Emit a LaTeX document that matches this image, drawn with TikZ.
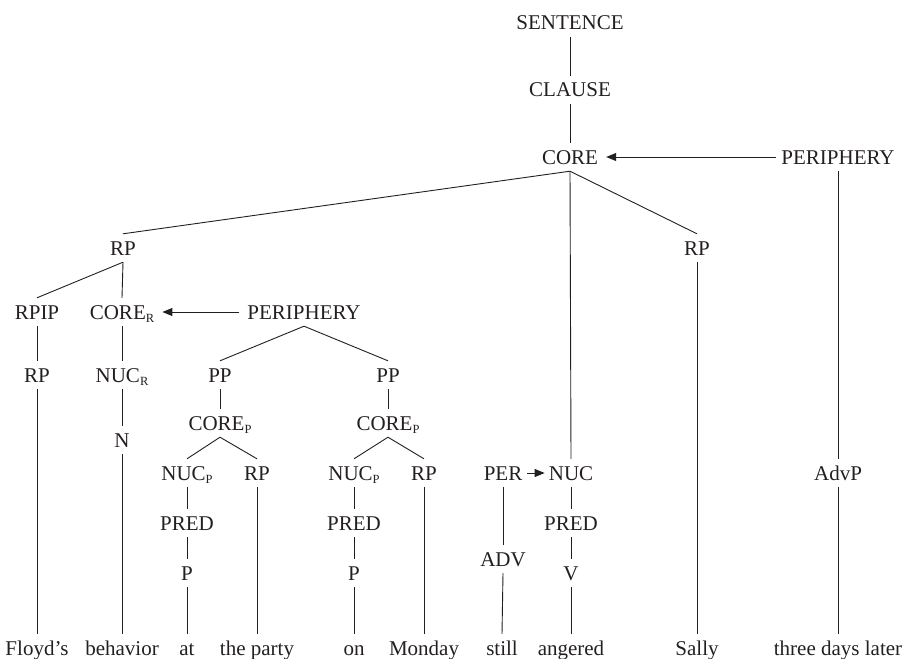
\documentclass[tikz,border=0pt]{standalone}
\usepackage{fontspec}
\setmainfont{Liberation Serif}
\usetikzlibrary{arrows.meta}
\definecolor{ink}{RGB}{35,31,32}
\newcommand{\lsub}[1]{\raisebox{-0.35ex}{\fontsize{12.5}{13}\selectfont #1}}
\begin{document}
\begin{tikzpicture}[x=1pt,y=-1pt,
  lbl/.style={inner xsep=0pt, inner ysep=7pt, text height=14pt, text depth=0pt,
    text=ink, font=\fontsize{21}{24}\selectfont},
  edge/.style={line width=0.9pt, draw=ink},
  arr/.style={edge, -{Triangle[length=10pt,width=8pt]}}]
\useasboundingbox (0,0) rectangle (904,658);
% nodes
\node[lbl] (sent)   at (570,23)  {SENTENCE};
\node[lbl] (clause) at (570,90)  {CLAUSE};
\node[lbl] (core)   at (570,157) {CORE};
\node[lbl] (per1)   at (838,157) {PERIPHERY};
\node[lbl] (rp1)    at (123,248) {RP};
\node[lbl] (rp2)    at (697,248) {RP};
\node[lbl] (rpip)   at (37,312)  {RPIP};
\node[lbl] (coreR)  at (122,312) {CORE\lsub{R}};
\node[lbl] (per2)   at (304,312) {PERIPHERY};
\node[lbl] (rp3)    at (37,375)  {RP};
\node[lbl] (nucR)   at (122,375) {NUC\lsub{R}};
\node[lbl] (pp1)    at (220,375) {PP};
\node[lbl] (pp2)    at (388,375) {PP};
\node[lbl] (coreP1) at (220,423) {CORE\lsub{P}};
\node[lbl] (coreP2) at (388,423) {CORE\lsub{P}};
\node[lbl] (nN)     at (122,440) {N};
\node[lbl] (nucP1)  at (187,473) {NUC\lsub{P}};
\node[lbl] (rp4)    at (257,473) {RP};
\node[lbl] (nucP2)  at (354,473) {NUC\lsub{P}};
\node[lbl] (rp5)    at (424,473) {RP};
\node[lbl] (perA)   at (503,473) {PER};
\node[lbl] (nuc)    at (571,473) {NUC};
\node[lbl] (advp)   at (838,473) {AdvP};
\node[lbl] (pred1)  at (187,523) {PRED};
\node[lbl] (pred2)  at (354,523) {PRED};
\node[lbl] (pred3)  at (571,523) {PRED};
\node[lbl] (adv)    at (503,559) {ADV};
\node[lbl] (p1)     at (187,573) {P};
\node[lbl] (p2)     at (354,573) {P};
\node[lbl] (v)      at (571,573) {V};
% words
\node[lbl] (floyd)   at (37,648)  {Floyd’s};
\node[lbl] (behav)   at (122,648) {behavior};
\node[lbl] (at)      at (187,648) {at};
\node[lbl] (party)   at (257,648) {the party};
\node[lbl] (on)      at (354,648) {on};
\node[lbl] (monday)  at (424,648) {Monday};
\node[lbl] (still)   at (502,648) {still};
\node[lbl] (angered) at (571,648) {angered};
\node[lbl] (sally)   at (697,648) {Sally};
\node[lbl] (later)   at (838,648) {three days later};
% tree edges
\foreach \a/\b in {sent/clause, clause/core, core/rp1, core/nuc, core/rp2,
  per1/advp, advp/later, rp2/sally,
  rp1/rpip, rp1/coreR, rpip/rp3, rp3/floyd,
  coreR/nucR, nucR/nN, nN/behav,
  per2/pp1, per2/pp2, pp1/coreP1, pp2/coreP2,
  coreP1/nucP1, coreP1/rp4, coreP2/nucP2, coreP2/rp5,
  nucP1/pred1, pred1/p1, p1/at, rp4/party,
  nucP2/pred2, pred2/p2, p2/on, rp5/monday,
  perA/adv, adv/still, nuc/pred3, pred3/v, v/angered}
  \draw[edge] (\a.south) -- (\b.north);
% arrows
\draw[arr, shorten <=5pt, shorten >=8pt] (per1.west) -- (core.east);
\draw[arr, shorten <=8pt, shorten >=8pt] (per2.west) -- (coreR.east);
\draw[arr, shorten <=5pt, shorten >=4pt] (perA.east) -- (nuc.west);
\end{tikzpicture}
\end{document}
